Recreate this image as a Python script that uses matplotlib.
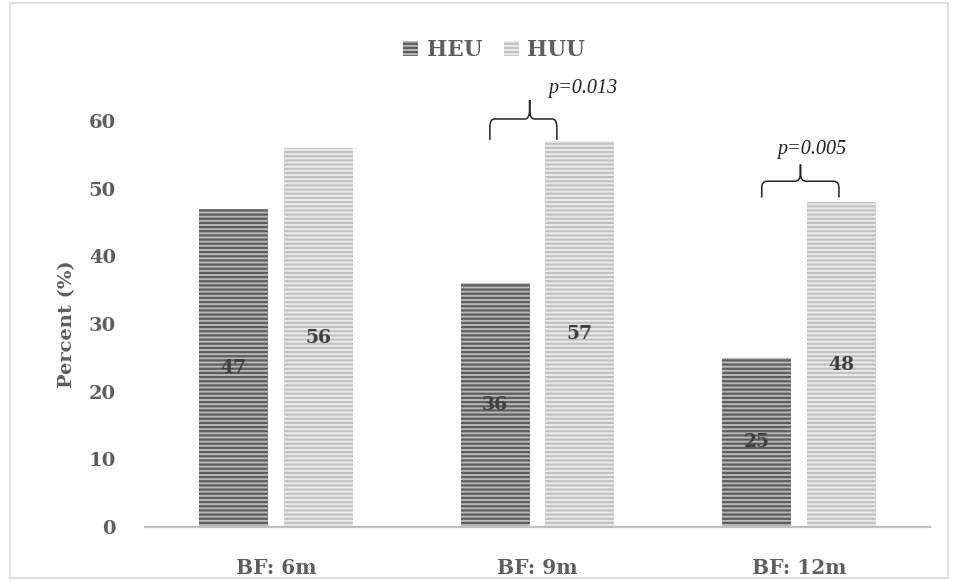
import matplotlib
matplotlib.use("Agg")
import matplotlib.pyplot as plt
import numpy as np
from matplotlib.patches import Rectangle, PathPatch
from matplotlib.path import Path

categories = ["BF: 6m", "BF: 9m", "BF: 12m"]
heu = [47, 36, 25]
huu = [56, 57, 48]
series_names = ["HEU", "HUU"]
yticks = [0, 10, 20, 30, 40, 50, 60]
pvals = [None, "p=0.013", "p=0.005"]

plt.rcParams['font.family'] = ['DejaVu Serif']
plt.rcParams['hatch.linewidth'] = 1.6
txt_color = '#5f5f5f'

fig = plt.figure(figsize=(9.58, 5.81), dpi=100)
ax = fig.add_axes([145/958, 1-527/581, 785/958, 406/581])

x = np.arange(len(categories))
w = 0.263
off = 0.162
b1 = ax.bar(x - off, heu, w, facecolor='#b8b8b8', edgecolor='#5e5e5e', hatch='----', linewidth=0, label=series_names[0])
b2 = ax.bar(x + off, huu, w, facecolor='#ebebeb', edgecolor='#c2c2c2', hatch='----', linewidth=0, label=series_names[1])

for xi, v in zip(x - off, heu):
    ax.text(xi, v/2, str(v), ha='center', va='center', fontsize=13.5, fontweight='bold', color='#404040')
for xi, v in zip(x + off, huu):
    ax.text(xi, v/2, str(v), ha='center', va='center', fontsize=13.5, fontweight='bold', color='#404040')

ax.set_xlim(-0.5, 2.5)
ax.set_ylim(0, 60)
ax.set_yticks(yticks)
ax.set_xticks(x)
ax.set_xticklabels(categories)
for s in ['top', 'right', 'left']:
    ax.spines[s].set_visible(False)
ax.spines['bottom'].set_color('#bfbfbf')
ax.spines['bottom'].set_linewidth(1.6)
ax.tick_params(axis='both', length=0, labelsize=14, labelcolor=txt_color)
ax.tick_params(axis='x', labelsize=14.5)
ax.tick_params(axis='y', pad=21)
ax.tick_params(axis='x', pad=22)
for lab in ax.get_xticklabels() + ax.get_yticklabels():
    lab.set_fontweight('bold')
ax.set_ylabel("Percent (%)", fontsize=14, fontweight='bold', color=txt_color, labelpad=9)


def brace(ax, x0, x1, xm, ybot, yh, ytop, color='#222222'):
    r = (x1 - x0) * 0.07
    rv = (yh - ybot) * 0.4
    verts = [(x0, ybot), (x0, yh - rv), (x0, yh), (x0 + r, yh),
             (xm - r, yh), (xm, yh), (xm, yh + (ytop - yh) * 0.5), (xm, ytop),
             (xm, yh + (ytop - yh) * 0.5), (xm, yh), (xm + r, yh),
             (x1 - r, yh), (x1, yh), (x1, yh - rv), (x1, ybot)]
    codes = [Path.MOVETO, Path.LINETO, Path.CURVE3, Path.CURVE3,
             Path.LINETO, Path.CURVE3, Path.CURVE3, Path.LINETO,
             Path.LINETO, Path.CURVE3, Path.CURVE3,
             Path.LINETO, Path.CURVE3, Path.CURVE3, Path.LINETO]
    p = PathPatch(Path(verts, codes), facecolor='none', edgecolor=color, lw=1.1, clip_on=False)
    ax.add_patch(p)

pfont = dict(family=['Liberation Serif', 'DejaVu Serif'], fontsize=14.5, style='italic', color='#222222')
# 9m bracket
brace(ax, 0.818, 1.074, 0.97, 57.2, 60.3, 63.1)
ax.text(1.174, 64.8, pvals[1], ha='center', va='center', clip_on=False, **pfont)
# 12m bracket
brace(ax, 1.857, 2.152, 2.005, 48.7, 51.1, 53.6)
ax.text(2.047, 55.8, pvals[2], ha='center', va='center', clip_on=False, **pfont)

leg = fig.legend(handles=[b1, b2], labels=series_names, loc='center', bbox_to_anchor=(494/958, 1-50/581),
                 ncol=2, frameon=False, fontsize=15.5, handlelength=0.7, handleheight=0.72,
                 handletextpad=0.4, columnspacing=1.0)
for t in leg.get_texts():
    t.set_fontweight('bold')
    t.set_color(txt_color)

fig.patches.append(Rectangle((10/958, 3/581), 938/958, 575/581, transform=fig.transFigure,
                             facecolor='none', edgecolor='#d9d9d9', lw=1.2))

fig.savefig("out.png", dpi=100)
